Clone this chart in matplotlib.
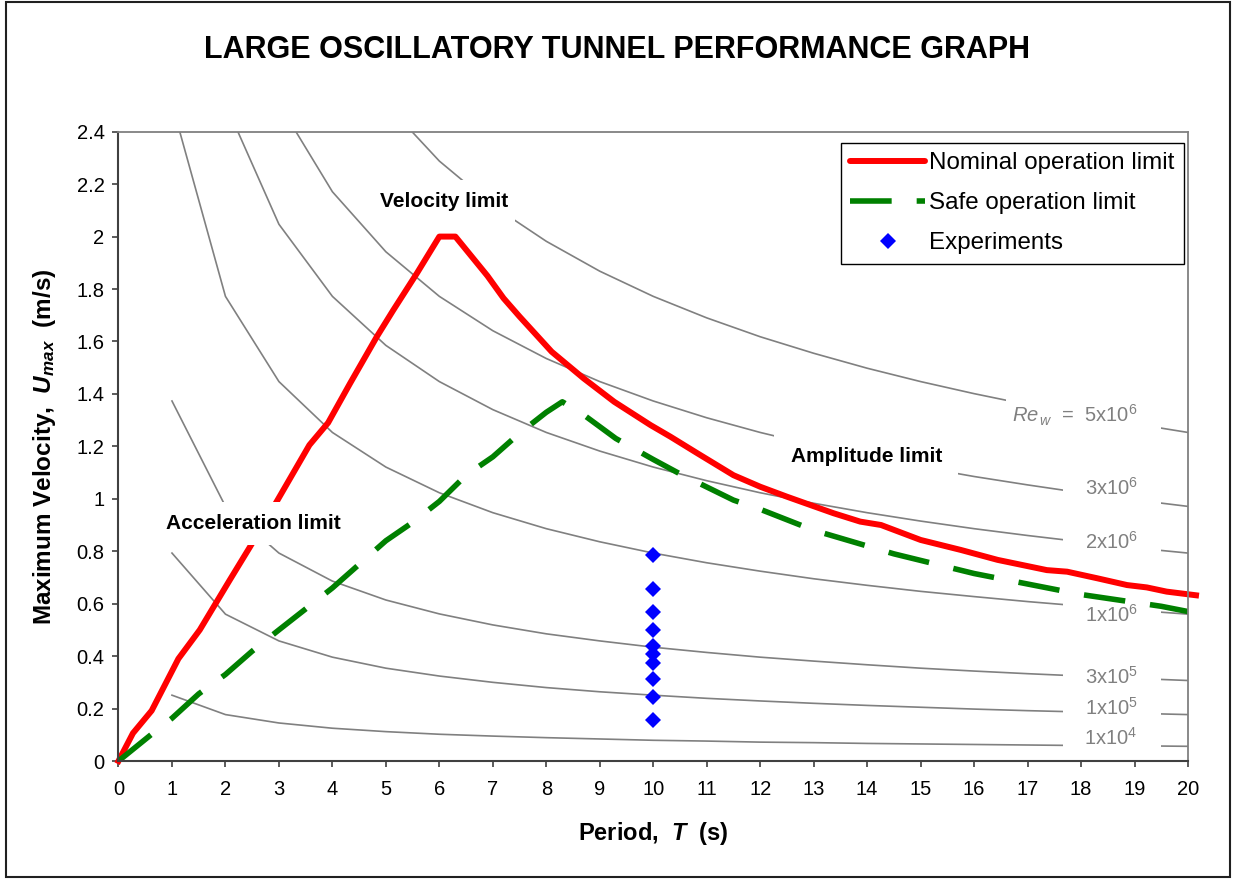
import matplotlib
matplotlib.use("Agg")
import matplotlib.pyplot as plt
from matplotlib.patches import Rectangle
from matplotlib.lines import Line2D

plt.rcParams.update({
    "font.family": "Liberation Sans",
    "mathtext.fontset": "custom",
    "mathtext.rm": "Liberation Sans",
    "mathtext.it": "Liberation Sans:italic",
    "mathtext.bf": "Liberation Sans:bold",
    "mathtext.bfit": "Liberation Sans:bold:italic",
})

# ---------------- data ----------------
# Nominal operation limit (acceleration / velocity / amplitude limited)
nominal_T = [0, 0.27, 0.62, 1.12, 1.52, 2.08, 2.46, 2.96, 3.57, 3.92, 4.33, 4.83,
             5.14, 5.58, 6.0, 6.3, 6.9, 7.2, 7.5, 8.1, 8.7, 9.27, 9.95, 10.32,
             10.83, 11.5, 12.0, 12.5, 13.37, 13.87, 14.26, 15.0, 15.75, 16.44,
             17.36, 17.74, 18.3, 18.86, 19.23, 19.6, 20.15]
nominal_U = [0, 0.106, 0.192, 0.39, 0.5, 0.69, 0.817, 0.99, 1.205, 1.29, 1.44, 1.618,
             1.72, 1.86, 2.0, 2.0, 1.85, 1.765, 1.695, 1.561, 1.459, 1.37, 1.281, 1.237,
             1.173, 1.09, 1.046, 1.008, 0.945, 0.913, 0.90, 0.843, 0.805, 0.767,
             0.728, 0.722, 0.697, 0.671, 0.662, 0.646, 0.632]

# Safe operation limit
safe_T = [0, 0.6, 1.0, 1.5, 2.0, 2.5, 3.0, 3.5, 4.0, 4.5, 5.0, 5.5, 6.0, 6.5, 7.0,
          7.5, 8.0, 8.3, 8.7, 9.3, 10.0, 10.5, 11.0, 11.5, 12.0, 12.5, 13.0, 13.5,
          14.0, 14.5, 15.0, 15.5, 16.0, 16.5, 17.0, 17.5, 18.0, 18.5, 19.0, 19.5, 20.0]
safe_U = [0, 0.099, 0.163, 0.256, 0.33, 0.419, 0.50, 0.58, 0.66, 0.75, 0.84, 0.91,
          0.99, 1.09, 1.16, 1.25, 1.33, 1.37, 1.32, 1.23, 1.15, 1.095, 1.045, 0.995,
          0.96, 0.92, 0.88, 0.85, 0.82, 0.79, 0.765, 0.74, 0.715, 0.695, 0.675,
          0.655, 0.635, 0.62, 0.605, 0.59, 0.57]

# Experiments
exp_T = [10, 10, 10, 10, 10, 10, 10, 10, 10, 10]
exp_U = [0.786, 0.655, 0.567, 0.50, 0.439, 0.408, 0.375, 0.312, 0.245, 0.156]

# Wave Reynolds number iso-lines
re_T = list(range(1, 21))
re_1e4 = [0.251, 0.177, 0.145, 0.125, 0.112, 0.102, 0.095, 0.089, 0.084, 0.079,
          0.076, 0.072, 0.070, 0.067, 0.065, 0.063, 0.061, 0.059, 0.058, 0.056]
re_1e5 = [0.793, 0.560, 0.458, 0.396, 0.354, 0.324, 0.300, 0.280, 0.264, 0.251,
          0.239, 0.229, 0.220, 0.212, 0.205, 0.198, 0.192, 0.187, 0.182, 0.177]
re_3e5 = [1.373, 0.971, 0.793, 0.686, 0.614, 0.561, 0.519, 0.485, 0.458, 0.434,
          0.414, 0.396, 0.381, 0.367, 0.354, 0.343, 0.333, 0.324, 0.315, 0.307]
re_1e6 = [2.507, 1.772, 1.447, 1.253, 1.121, 1.023, 0.947, 0.886, 0.836, 0.793,
          0.756, 0.724, 0.695, 0.670, 0.647, 0.627, 0.608, 0.591, 0.575, 0.560]
re_2e6 = [2.507, 2.047, 1.772, 1.585, 1.447, 1.340, 1.253, 1.182, 1.121, 1.069,
          1.023, 0.983, 0.947, 0.915, 0.886, 0.860, 0.836, 0.813, 0.793]
re_3e6 = [2.507, 2.171, 1.942, 1.772, 1.641, 1.535, 1.447, 1.373, 1.309, 1.253,
          1.204, 1.160, 1.121, 1.085, 1.053, 1.023, 0.996, 0.971]
re_5e6 = [2.507, 2.288, 2.118, 1.982, 1.868, 1.772, 1.690, 1.618, 1.555, 1.498,
          1.447, 1.401, 1.359, 1.321, 1.286, 1.253]
re_curves = [re_1e4, re_1e5, re_3e5, re_1e6, re_2e6, re_3e6, re_5e6]

re_labels = ["1x10$^{4}$", "1x10$^{5}$", "3x10$^{5}$", "1x10$^{6}$",
             "2x10$^{6}$", "3x10$^{6}$",
             r"$\mathit{Re}_{\,\mathit{w}}$  =  5x10$^{6}$"]
re_label_y = [0.061, 0.175, 0.293, 0.530, 0.809, 1.014, 1.290]

x_ticks = list(range(0, 21))
y_ticks = [0, 0.2, 0.4, 0.6, 0.8, 1.0, 1.2, 1.4, 1.6, 1.8, 2.0, 2.2, 2.4]
y_tick_labels = ["0", "0.2", "0.4", "0.6", "0.8", "1", "1.2", "1.4", "1.6",
                 "1.8", "2", "2.2", "2.4"]

# ---------------- figure ----------------
W, H = 1233, 880
fig = plt.figure(figsize=(W / 100, H / 100), dpi=100)
ax = fig.add_axes([118.5 / W, 1 - 761 / H, (1188 - 118.5) / W, (761 - 131.7) / H])
ax.set_xlim(0, 20)
ax.set_ylim(0, 2.4)

gray = "#808080"
for i, vals in enumerate(re_curves):
    ax.plot(re_T[len(re_T) - len(vals):], vals, color=gray, lw=1.2, zorder=2,
            solid_joinstyle="miter")

# white backgrounds of the Reynolds-number labels
ax.add_patch(Rectangle((17.67, 0.004), 19.5 - 17.67, 1.25, facecolor="white",
                       edgecolor="none", zorder=2.2))
ax.add_patch(Rectangle((16.6, 1.20), 19.5 - 16.6, 0.22, facecolor="white",
                       edgecolor="none", zorder=2.2))

ax.plot(nominal_T, nominal_U, color="#FF0000", lw=4.3, zorder=3,
        solid_joinstyle="round", clip_on=False)
ax.plot(safe_T, safe_U, color="#008000", lw=4.0, zorder=3.1,
        linestyle=(0, (7.5, 4.5)), dash_capstyle="butt")
ax.plot(exp_T, exp_U, linestyle="none", marker="D", markersize=8,
        color="#0000FF", markeredgewidth=0, zorder=3.2)

for txt, yv in zip(re_labels, re_label_y):
    ax.text(19.06, yv, txt, ha="right", va="baseline", fontsize=14.5,
            color=gray, zorder=5)

# limit labels with white boxes
limit_labels = [("Velocity limit", 6.08, 2.135, (4.6, 7.42)),
                ("Acceleration limit", 2.52, 0.907, (0.7, 4.45)),
                ("Amplitude limit", 13.99, 1.16, (12.26, 15.7))]
for txt, xc, yc, (x0, x1) in limit_labels:
    ax.add_patch(Rectangle((x0, yc - 0.082), x1 - x0, 0.164, facecolor="white",
                           edgecolor="none", zorder=4))
    ax.text(xc, yc, txt, ha="center", va="center", fontsize=15,
            fontweight="bold", color="black", zorder=5)

# axes styling
ax.set_xticks(x_ticks)
ax.set_yticks(y_ticks)
ax.set_yticklabels(y_tick_labels)
dark = "#404040"
for side in ("left", "bottom"):
    ax.spines[side].set_color(dark)
    ax.spines[side].set_linewidth(1.5)
    ax.spines[side].set_zorder(6)
for side in ("top", "right"):
    ax.spines[side].set_color(gray)
    ax.spines[side].set_linewidth(1.3)
    ax.spines[side].set_zorder(6)
ax.tick_params(axis="both", direction="out", length=4, width=1.2, color=dark,
               labelsize=14.5, labelcolor="black")
ax.tick_params(axis="x", pad=10)
ax.tick_params(axis="y", pad=6)

fig.text(617.5 / W, 1 - 50 / H, "LARGE OSCILLATORY TUNNEL PERFORMANCE GRAPH",
         ha="center", va="center", fontsize=22, fontweight="bold")
fig.text(45 / W, 1 - 447 / H,
         r"Maximum Velocity,  $\mathbfit{U}_{\mathbfit{max}}$  (m/s)",
         rotation=90, ha="center", va="center", fontsize=17.5, fontweight="bold")
fig.text(653.5 / W, 1 - 833 / H, r"Period,  $\mathbfit{T}$  (s)",
         ha="center", va="center", fontsize=17, fontweight="bold")

handles = [
    Line2D([], [], color="#FF0000", lw=4.3, solid_capstyle="round"),
    Line2D([], [], color="#008000", lw=4.0, linestyle=(0, (7.5, 4.5))),
    Line2D([], [], linestyle="none", marker="D", markersize=8,
           color="#0000FF", markeredgewidth=0),
]
leg = ax.legend(handles, ["Nominal operation limit", "Safe operation limit",
                          "Experiments"],
                loc="upper right", bbox_to_anchor=(1184 / W, 1 - 142.7 / H),
                bbox_transform=fig.transFigure, borderaxespad=0, fancybox=False,
                framealpha=1, edgecolor="black", fontsize=17.4,
                handlelength=3.1, handletextpad=0.15, labelspacing=0.74,
                borderpad=0.4)
leg.get_frame().set_linewidth(1.0)
leg.set_zorder(7)

# outer chart border
fig.add_artist(Rectangle((6 / W, 3 / H), (1230 - 6) / W, (878 - 3) / H,
                         transform=fig.transFigure, fill=False,
                         edgecolor="#202020", lw=1.5))

fig.savefig("out.png", dpi=100, facecolor="white")
